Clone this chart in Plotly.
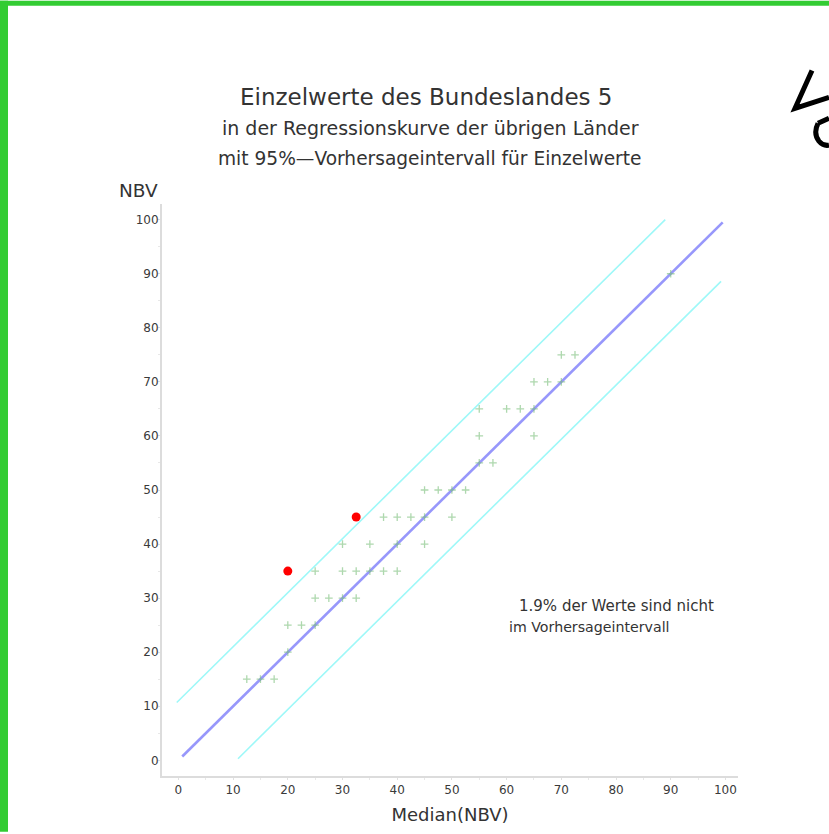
import plotly.graph_objects as go

# ---------------- data ----------------
green_x = [12.5, 15, 17.5,
           20,
           20, 22.5, 25,
           25, 27.5, 30, 32.5,
           25, 30, 32.5, 35, 37.5, 40,
           30, 35, 40, 45,
           37.5, 40, 42.5, 45, 50,
           45, 47.5, 50, 52.5,
           55, 57.5,
           55, 65,
           55, 60, 62.5, 65,
           65, 67.5, 70,
           70, 72.5,
           90]
green_y = [15, 15, 15,
           20,
           25, 25, 25,
           30, 30, 30, 30,
           35, 35, 35, 35, 35, 35,
           40, 40, 40, 40,
           45, 45, 45, 45, 45,
           50, 50, 50, 50,
           55, 55,
           60, 60,
           65, 65, 65, 65,
           70, 70, 70,
           75, 75,
           90]

red_x = [20, 32.5]
red_y = [35, 45]

reg_x = [0.7, 99.5]
reg_y = [0.7, 99.5]

upper_x = [-0.3, 89]
upper_y = [10.7, 100]
lower_x = [10.9, 99.2]
lower_y = [0.3, 88.6]

x_ticks = [0, 10, 20, 30, 40, 50, 60, 70, 80, 90, 100]
y_ticks = [0, 10, 20, 30, 40, 50, 60, 70, 80, 90, 100]

title_text = "Einzelwerte des Bundeslandes 5"
sub1_text = "in der Regressionskurve der übrigen Länder"
sub2_text = "mit 95%—Vorhersageintervall für Einzelwerte"
note1_text = "1.9% der Werte sind nicht"
note2_text = "im Vorhersageintervall"

# ---------------- layout geometry ----------------
W, H = 829, 834
L, R, T, B = 162, 91, 204, 56
PW = W - L - R
PH = H - T - B


def px(xp):
    return (xp - L) / PW


def py(yp):
    return (H - B - yp) / PH


FONT = "DejaVu Sans"
TXT = "#333333"

fig = go.Figure()

fig.add_trace(go.Scatter(x=upper_x, y=upper_y, mode="lines",
                         line=dict(color="#9ef8f8", width=1.6),
                         hoverinfo="skip", showlegend=False))
fig.add_trace(go.Scatter(x=lower_x, y=lower_y, mode="lines",
                         line=dict(color="#9ef8f8", width=1.6),
                         hoverinfo="skip", showlegend=False))
fig.add_trace(go.Scatter(x=reg_x, y=reg_y, mode="lines",
                         line=dict(color="rgba(125,125,250,0.8)", width=2.6),
                         hoverinfo="skip", showlegend=False))
fig.add_trace(go.Scatter(x=green_x, y=green_y, mode="markers",
                         marker=dict(symbol="cross-thin", size=5.5,
                                     line=dict(color="rgba(120,190,120,0.6)", width=1.3)),
                         showlegend=False))
fig.add_trace(go.Scatter(x=red_x, y=red_y, mode="markers",
                         marker=dict(symbol="circle", size=9, color="#ff0000"),
                         showlegend=False))

axis_common = dict(
    showline=True, linecolor="#dcdcdc", linewidth=2, mirror=False,
    showgrid=False, zeroline=False,
    ticks="outside", ticklen=2, tickcolor="#e0e0e0", tickwidth=1,
    tickfont=dict(family=FONT, size=12, color="#3a3a3a"),
    minor=dict(ticks="outside", ticklen=2, tickcolor="#e8e8e8", dtick=5),
)

fig.update_layout(
    width=W, height=H,
    margin=dict(l=L, r=R, t=T, b=B),
    paper_bgcolor="white", plot_bgcolor="white",
    xaxis=dict(range=[-3, 102.3], tickvals=x_ticks, **axis_common,
               title=dict(text="Median(NBV)", font=dict(family=FONT, size=18, color=TXT),
                          standoff=12)),
    yaxis=dict(range=[-2.9, 102.9], tickvals=y_ticks, ticklabelstandoff=-3, **axis_common),
    font=dict(family=FONT, color=TXT),
)

annos = [
    dict(text=title_text, x=px(425.5), y=py(97), size=23),
    dict(text=sub1_text, x=px(430), y=py(128), size=19),
    dict(text=sub2_text, x=px(429.5), y=py(158), size=18.6),
]
for a in annos:
    fig.add_annotation(text=a["text"], x=a["x"], y=a["y"], xref="paper", yref="paper",
                       xanchor="center", yanchor="middle", showarrow=False,
                       font=dict(family=FONT, size=a["size"], color=TXT))

fig.add_annotation(text="NBV", x=px(160), y=py(190), xref="paper", yref="paper",
                   xanchor="right", yanchor="middle", showarrow=False,
                   font=dict(family=FONT, size=18.5, color=TXT))

fig.add_annotation(text=note1_text, x=px(517), y=py(607), xref="paper", yref="paper",
                   xanchor="left", yanchor="middle", showarrow=False,
                   font=dict(family=FONT, size=15, color="#333333"))
fig.add_annotation(text=note2_text, x=px(507), y=py(628), xref="paper", yref="paper",
                   xanchor="left", yanchor="middle", showarrow=False,
                   font=dict(family=FONT, size=14.2, color="#333333"))

# green frame on the top and left edges
GREEN = "#33cc33"
fig.add_shape(type="rect", xref="paper", yref="paper",
              x0=px(0), x1=px(W), y0=py(0), y1=py(5),
              fillcolor=GREEN, line=dict(width=0), layer="above")
fig.add_shape(type="rect", xref="paper", yref="paper",
              x0=px(0), x1=px(8), y0=py(0), y1=py(H),
              fillcolor=GREEN, line=dict(width=0), layer="above")


# handwritten "Ve" fragment in the top-right corner
def pt(xp, yp):
    return f"{px(xp):.5f},{py(yp):.5f}"


ve_path = (f"M {pt(812, 70)} L {pt(795, 108)} L {pt(829, 97)} "
           f"M {pt(818, 123)} L {pt(829, 118)} "
           f"M {pt(818, 123)} Q {pt(813, 133)} {pt(819, 141)} Q {pt(823, 146)} {pt(829, 145)}")
fig.add_shape(type="path", xref="paper", yref="paper", path=ve_path,
              line=dict(color="black", width=5), layer="above")

fig.write_html("out.html", config={"displayModeBar": False},
               post_script="document.body.style.margin='0';")
